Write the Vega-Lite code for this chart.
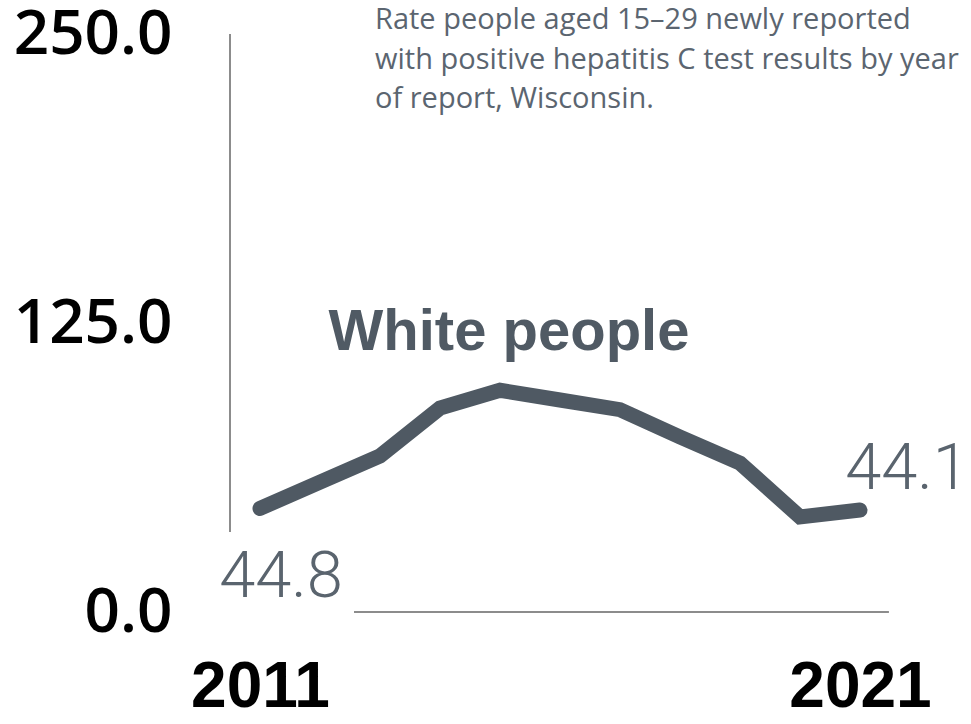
{
  "$schema": "https://vega.github.io/schema/vega-lite/v6.json",
  "width": 660,
  "height": 578,
  "autosize": {"type": "none"},
  "padding": {"left": 230, "top": 34, "right": 81, "bottom": 112},
  "background": "#ffffff",
  "config": {"view": {"stroke": null}, "font": "Roboto"},
  "data": {
    "values": [
      {"year": 2011, "rate": 44.8},
      {"year": 2012, "rate": 56.2},
      {"year": 2013, "rate": 67.5},
      {"year": 2014, "rate": 88.2},
      {"year": 2015, "rate": 95.9},
      {"year": 2016, "rate": 91.7},
      {"year": 2017, "rate": 87.5},
      {"year": 2018, "rate": 75.7},
      {"year": 2019, "rate": 64.4},
      {"year": 2020, "rate": 41.1},
      {"year": 2021, "rate": 44.1}
    ]
  },
  "encoding": {
    "x": {
      "field": "year",
      "type": "quantitative",
      "scale": {"domain": [2010.5, 2021.5], "nice": false, "zero": false},
      "axis": {
        "values": [2011, 2021],
        "format": "d",
        "title": null,
        "domain": false,
        "ticks": false,
        "grid": false,
        "labelFont": "Liberation Sans",
        "labelFontWeight": "bold",
        "labelFontSize": 64,
        "labelColor": "#000000",
        "labelPadding": 43,
        "labelFlush": false
      }
    },
    "y": {
      "field": "rate",
      "type": "quantitative",
      "scale": {"domain": [0, 250], "nice": false},
      "axis": {
        "values": [0, 125, 250],
        "format": ".1f",
        "title": null,
        "domain": false,
        "ticks": false,
        "grid": false,
        "labelFont": "Open Sans",
        "labelFontWeight": 600,
        "labelFontSize": 62,
        "labelColor": "#000000",
        "labelPadding": 58,
        "labelFlush": false
      }
    }
  },
  "layer": [
    {
      "mark": {"type": "rule", "color": "#8c8c8c", "strokeWidth": 2},
      "encoding": {"x": {"datum": 2010.5}, "y": {"datum": 34.6}, "y2": {"datum": 250}}
    },
    {
      "mark": {"type": "rule", "color": "#8c8c8c", "strokeWidth": 2},
      "encoding": {"y": {"datum": 0}, "x": {"datum": 2012.57}, "x2": {"datum": 2021.47}}
    },
    {
      "mark": {"type": "line", "color": "#4f5963", "strokeWidth": 15, "strokeCap": "round"}
    },
    {
      "transform": [{"filter": "datum.year == 2011"}],
      "mark": {"type": "text", "align": "center", "baseline": "middle", "dx": 21, "dy": 69, "fontSize": 65, "fontWeight": 300, "font": "Roboto", "color": "#5a646e"},
      "encoding": {"text": {"field": "rate", "type": "quantitative", "format": ".1f"}}
    },
    {
      "transform": [{"filter": "datum.year == 2021"}],
      "mark": {"type": "text", "align": "center", "baseline": "middle", "dx": 47, "dy": -41, "fontSize": 65, "fontWeight": 300, "font": "Roboto", "color": "#5a646e"},
      "encoding": {"text": {"field": "rate", "type": "quantitative", "format": ".1f"}}
    },
    {
      "transform": [{"filter": "datum.year == 2015"}],
      "mark": {"type": "text", "align": "center", "baseline": "middle", "fontSize": 58, "fontWeight": "bold", "font": "Liberation Sans", "color": "#505a64"},
      "encoding": {"x": {"datum": 2015.15}, "y": {"datum": 120.7}, "text": {"value": "White people"}}
    },
    {
      "transform": [{"filter": "datum.year == 2015"}],
      "mark": {"type": "text", "align": "left", "baseline": "top", "fontSize": 29, "lineHeight": 39.5, "font": "Open Sans", "color": "#5b6570"},
      "encoding": {"x": {"datum": 2012.917}, "y": {"datum": 262}, "text": {"value": ["Rate people aged 15–29 newly reported", "with positive hepatitis C test results by year", "of report, Wisconsin."]}}
    }
  ]
}
